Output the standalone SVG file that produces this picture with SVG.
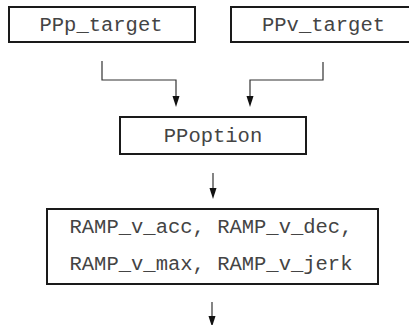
<svg xmlns="http://www.w3.org/2000/svg" width="409" height="325" viewBox="0 0 409 325">
<style>
.box{fill:#fff;stroke:#1a1a1a;stroke-width:2}
.t{font-family:"Liberation Mono","Courier New",monospace;font-size:20.5px;fill:#444;text-anchor:middle}
.c{fill:none;stroke:#333;stroke-width:1.2}
.ah{fill:#111}
</style>
<rect width="409" height="325" fill="#fff"/>
<g id="connectors">
<path class="c" d="M102,61 V80 H176 V96"/>
<path class="ah" d="M172.5,96 L179.5,96 L176,107 Z"/>
<path class="c" d="M323,62 V80 H250 V96"/>
<path class="ah" d="M246.5,96 L253.5,96 L250,107 Z"/>
<path class="c" d="M213,173 V188"/>
<path class="ah" d="M209.5,188 L216.5,188 L213,199 Z"/>
<path class="c" d="M212,302 V316"/>
<path class="ah" d="M208.5,316 L215.5,316 L212,327 Z"/>
</g>
<g id="PPp_target">
<rect class="box" x="9" y="7" width="186" height="35"/>
<text class="t" x="101" y="31">PPp_target</text>
</g>
<g id="PPv_target">
<rect class="box" x="231" y="7" width="185" height="35"/>
<text class="t" x="323.5" y="31">PPv_target</text>
</g>
<g id="PPoption">
<rect class="box" x="120" y="117" width="186" height="37"/>
<text class="t" x="213" y="142">PPoption</text>
</g>
<g id="RAMP">
<rect class="box" x="47" y="209" width="331" height="75"/>
<text class="t" x="211" y="233">RAMP_v_acc, RAMP_v_dec,</text>
<text class="t" x="211" y="270">RAMP_v_max, RAMP_v_jerk</text>
</g>
</svg>
